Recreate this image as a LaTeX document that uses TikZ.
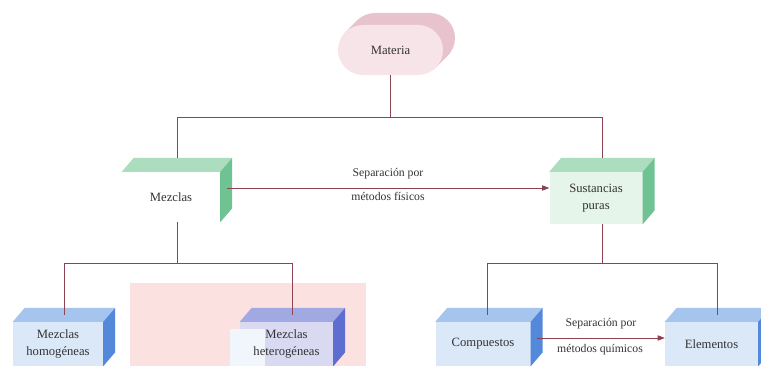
\documentclass[tikz,border=0pt]{standalone}
\usepackage{fontspec}
\setmainfont{Liberation Serif}
\usetikzlibrary{calc,arrows.meta}

\definecolor{granate}{HTML}{8E4252}
\definecolor{texto}{HTML}{333333}
\definecolor{rosafondo}{HTML}{FCE1E1}
\definecolor{franja}{HTML}{F1F5FC}
\definecolor{matfrente}{HTML}{F7E4E9}
\definecolor{matlado}{HTML}{E8C3CD}
\definecolor{verdetapa}{HTML}{ABDDBE}
\definecolor{verdelado}{HTML}{6FC291}
\definecolor{susfrente}{HTML}{E6F5EA}
\definecolor{azulfrente}{HTML}{DAE8F8}
\definecolor{azultapa}{HTML}{A6C5EE}
\definecolor{azullado}{HTML}{5488DA}
\definecolor{hetfrente}{HTML}{D9D9F1}
\definecolor{hettapa}{HTML}{A0A9E2}
\definecolor{hetlado}{HTML}{5E6ED0}

% top and side faces of a box node
\newcommand\caras[3]{%
  \fill[#2] (#1.north west) -- ++(12,-14) -- ($(#1.north east)+(12,-14)$) -- (#1.north east) -- cycle;
  \fill[#3] (#1.north east) -- ++(12,-14) -- ($(#1.south east)+(12,-14)$) -- (#1.south east) -- cycle;}

\tikzset{
  caja/.style={inner sep=0pt, align=center, text=texto,
    font=\fontsize{10.8}{14}\selectfont, minimum height=1.32cm},
  etiq/.style={inner sep=0pt, text=texto, font=\fontsize{10}{12}\selectfont},
  linea/.style={draw=granate, line width=.6pt},
  flecha/.style={linea, -{Triangle[length=6pt,width=4.5pt]}}
}

\begin{document}
\begin{tikzpicture}[x=0.03cm, y=-0.03cm]
  \useasboundingbox (0,0) rectangle (761,366);
  \clip (0,0) rectangle (761,366);

  \fill[rosafondo] (130,283) rectangle (366,366);

  % Materia
  \foreach \d in {1,...,12}
    \fill[matlado, rounded corners=.75cm] (338+\d,25-\d) rectangle (443+\d,75-\d);
  \node[caja, fill=matfrente, rounded corners=.75cm, minimum width=3.15cm,
    minimum height=1.5cm] (mat) at (390.5,50) {Materia};

  \node[caja, fill=white, minimum width=2.94cm, minimum height=1.5cm] (mez) at (171,197) {Mezclas};
  \caras{mez}{verdetapa}{verdelado}
  \node[caja, fill=susfrente, minimum width=2.79cm, minimum height=1.56cm] (sus) at (596,198) {Sustancias\\puras};
  \caras{sus}{verdetapa}{verdelado}

  \node[caja, fill=azulfrente, minimum width=2.7cm] (homo) at (58,344) {Mezclas\\homogéneas};
  \caras{homo}{azultapa}{azullado}
  \fill[franja] (230,329) rectangle (240,366);
  \node[caja, fill=hetfrente, minimum width=2.79cm,
    path picture={\fill[franja] (path picture bounding box.south west) rectangle ++(0.75cm,1.11cm);}]
    (het) at (286.5,344) {Mezclas\\heterogéneas};
  \caras{het}{hettapa}{hetlado}
  \node[caja, fill=azulfrente, minimum width=2.85cm] (comp) at (483,344) {Compuestos};
  \caras{comp}{azultapa}{azullado}
  \node[caja, fill=azulfrente, minimum width=2.79cm] (elem) at (711.5,344) {Elementos};
  \caras{elem}{azultapa}{azullado}

  % connectors
  \draw[linea] (mat.south) -- ++(0,42) coordinate (rama);
  \draw[linea] ([xshift=.18cm,yshift=.42cm]mez.north) |- (rama) -| ([xshift=.18cm,yshift=.42cm]sus.north);
  \draw[linea] ([xshift=.18cm]mez.south) -- ++(0,41) coordinate (bmez);
  \draw[linea] ([xshift=.18cm,yshift=.21cm]homo.north) |- (bmez) -| ([xshift=.18cm,yshift=.21cm]het.north);
  \draw[linea] ([xshift=.18cm]sus.south) -- ++(0,39) coordinate (bsus);
  \draw[linea] ([xshift=.12cm,yshift=.21cm]comp.north) |- (bsus) -| ([xshift=.18cm,yshift=.21cm]elem.north);

  \coordinate (fis) at (388,188);
  \draw[flecha] ($(mez.east |- fis)+(7,0)$) -- (sus.west |- fis);
  \node[etiq] (sep1) at (388,174) {Separación por};
  \node[etiq] (met1) at (388,196) {métodos físicos};

  \coordinate (qui) at (600,338);
  \draw[flecha] ($(comp.east |- qui)+(6,0)$) -- (elem.west |- qui);
  \node[etiq] (sep2) at (601,324) {Separación por};
  \node[etiq] (met2) at (600,350) {métodos químicos};
\end{tikzpicture}
\end{document}
